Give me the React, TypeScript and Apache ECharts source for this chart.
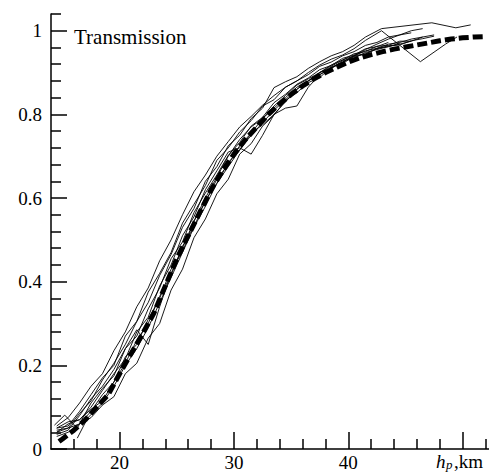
import React, { useEffect, useRef } from 'react';
import * as echarts from 'echarts';

// common x grid (km) for most of the individual transmission profiles
const gridX = [14.5, 15.5, 16.5, 17.5, 18.5, 19.5, 20.5, 21.5, 22.5, 23.5, 24.5, 25.5, 26.5, 27.5, 28.5, 29.5, 30.5, 31.5, 32.5, 33.5, 34.5, 35.5, 36.5, 37.5, 38.5, 39.5, 40.5, 41.5, 42.5, 43.5, 44.5, 45.5, 46.5, 47.5, 48.5, 49.5, 50.5];

const prof1 = [0.05, 0.055, 0.09, 0.13, 0.17, 0.2, 0.27, 0.305, 0.375, 0.42, 0.47, 0.54, 0.585, 0.63, 0.69, 0.72, 0.758, 0.785, 0.82, 0.835, 0.865, 0.88, 0.895, 0.915, 0.925, 0.94, 0.95, 0.965, 0.972, 0.985, 0.99, 0.995];
const prof2 = [0.045, 0.05, 0.06, 0.075, 0.105, 0.125, 0.18, 0.205, 0.265, 0.3, 0.38, 0.43, 0.505, 0.55, 0.61, 0.645, 0.705, 0.73, 0.772, 0.798, 0.833, 0.852, 0.876, 0.888, 0.913, 0.922, 0.938, 0.944, 0.957, 0.964, 0.966, 0.976, 0.981, 0.987];
const prof3 = [0.035, 0.045, 0.08, 0.12, 0.15, 0.19, 0.24, 0.285, 0.25, 0.34, 0.42, 0.48, 0.545, 0.6, 0.65, 0.7, 0.74, 0.77, 0.79, 0.82, 0.845, 0.87, 0.885, 0.9, 0.915, 0.93, 0.94, 0.952, 0.958, 0.968, 0.972, 0.98, 0.985, 0.99];
const prof5 = [0.04, 0.06, 0.07, 0.1, 0.14, 0.18, 0.215, 0.28, 0.315, 0.39, 0.44, 0.51, 0.555, 0.62, 0.665, 0.71, 0.72, 0.705, 0.75, 0.8, 0.83, 0.86, 0.88, 0.9, 0.918, 0.93, 0.945, 0.95, 0.963, 0.965, 0.975, 0.975, 0.985];
const prof6 = [0.05, 0.065, 0.07, 0.095, 0.115, 0.16, 0.205, 0.26, 0.3, 0.365, 0.415, 0.485, 0.53, 0.595, 0.635, 0.685, 0.715, 0.755, 0.775, 0.8, 0.815, 0.82, 0.865, 0.895, 0.91, 0.925, 0.94, 0.945, 0.958, 0.962, 0.97];
const prof10 = [0.03, 0.04, 0.06, 0.09, 0.13, 0.16, 0.22, 0.25, 0.31, 0.36, 0.43, 0.47, 0.545, 0.59, 0.645, 0.68, 0.725, 0.755, 0.79, 0.815, 0.84, 0.865, 0.88, 0.9, 0.91, 0.928, 0.935, 0.948, 0.955, 0.962, 0.968, 0.975];

// profiles sampled at their own x positions
const prof4X = [14.3, 15.2, 16.3, 17.5, 18.5, 19.5, 20.5, 21.5, 22.5, 23.5, 24.5, 25.5, 26.5, 27.5, 28.5, 29.5, 30.5, 31.5, 32.5, 33.5, 34.5, 35.5, 36.5, 37.5, 38.5, 39.5, 40.5, 41.5, 42.5, 43.5];
const prof4 = [0.057, 0.081, 0.05, 0.11, 0.145, 0.175, 0.24, 0.27, 0.335, 0.385, 0.455, 0.495, 0.565, 0.612, 0.655, 0.702, 0.733, 0.772, 0.793, 0.828, 0.848, 0.872, 0.887, 0.907, 0.917, 0.934, 0.942, 0.957, 0.962, 0.972];
const prof7X = [14.5, 15.5, 16.5, 17.5, 18.5, 19.5, 20.5, 21.5, 22.5, 23.5, 24.5, 25.5, 26.5, 27.5, 28.5, 29.5, 30.5, 31.5, 32.5, 33.5, 34.5, 35.5, 36.5, 37.5, 38.5, 39.5, 40.5, 41.5, 42.9, 47.3, 49.4, 50.7];
const prof7 = [0.04, 0.05, 0.085, 0.115, 0.165, 0.205, 0.25, 0.305, 0.35, 0.415, 0.465, 0.53, 0.575, 0.64, 0.675, 0.725, 0.75, 0.79, 0.815, 0.864, 0.878, 0.89, 0.91, 0.926, 0.94, 0.95, 0.965, 0.985, 1.005, 1.019, 1.007, 1.014];
const prof8X = [14.5, 15.5, 16.5, 17.5, 18.5, 19.5, 20.5, 21.5, 22.5, 23.5, 24.5, 25.5, 26.5, 27.5, 28.5, 29.5, 30.5, 31.5, 32.5, 33.5, 34.5, 35.5, 36.5, 37.5, 38.5, 39.5, 40.5, 41.5, 42.9, 46.3, 48.5, 49.5];
const prof8 = [0.055, 0.075, 0.11, 0.15, 0.18, 0.235, 0.28, 0.34, 0.385, 0.45, 0.5, 0.56, 0.615, 0.655, 0.7, 0.735, 0.77, 0.795, 0.822, 0.845, 0.865, 0.88, 0.9, 0.918, 0.932, 0.942, 0.957, 0.977, 1.0, 0.926, 0.968, 0.985];
const prof9X = [16.3, 17.2, 18.5, 19.5, 20.5, 21.5, 22.5, 23.5, 24.5, 25.5, 26.5, 27.5, 28.5, 29.5, 30.5, 31.5, 32.5, 33.5, 34.5, 35.5, 36.5, 37.5, 38.5, 39.5, 40.5, 41.5, 42.5, 43.5, 44.5, 45.5, 46.5];
const prof9 = [0.026, 0.074, 0.11, 0.15, 0.2, 0.24, 0.29, 0.35, 0.41, 0.47, 0.53, 0.58, 0.635, 0.675, 0.715, 0.75, 0.78, 0.81, 0.835, 0.86, 0.88, 0.895, 0.912, 0.925, 0.94, 0.955, 0.968, 0.98, 0.99, 1.0, 1.005];

// mean transmission (thick dashed curve)
const meanX = [14.7, 15, 16, 17, 18, 19, 20, 21, 22, 23, 24, 25, 26, 27, 28, 29, 30, 31, 32, 33, 34, 35, 36, 37, 38, 39, 40, 41, 42, 43, 44, 45, 46, 47, 48, 49, 50, 51, 52];
const meanY = [0.018, 0.024, 0.045, 0.07, 0.1, 0.13, 0.18, 0.228, 0.275, 0.325, 0.39, 0.455, 0.51, 0.565, 0.62, 0.665, 0.705, 0.74, 0.77, 0.8, 0.825, 0.848, 0.868, 0.885, 0.9, 0.913, 0.925, 0.935, 0.943, 0.95, 0.956, 0.961, 0.966, 0.971, 0.976, 0.98, 0.983, 0.985, 0.986];

// axis ticks and labels
const X_MIN = 14;
const X_MAX = 52.3;
const Y_MIN = 0;
const Y_MAX = 1.04;
const xMajor = [20, 30, 40, 50];
const xLabels = [20, 30, 40];
const xMinor = [16, 18, 22, 24, 26, 28, 32, 34, 36, 38, 42, 44, 46, 48, 52];
const yMajor = [0, 0.2, 0.4, 0.6, 0.8, 1];
const yMinor = [0.04, 0.08, 0.12, 0.16, 0.24, 0.28, 0.32, 0.36, 0.44, 0.48, 0.52, 0.56, 0.64, 0.68, 0.72, 0.76, 0.84, 0.88, 0.92, 0.96, 1.04];

const FONT = 'serif';

// plot area in pixels (used only to turn the short minor-tick length into data units)
const GRID = { left: 51, right: 0, top: 14, bottom: 21 };
const W = 489;
const H = 472;
const MINOR_LEN = 10;

function pairs(xs: number[], ys: number[]) {
  const out: number[][] = [];
  ys.forEach((y, i) => {
    if (i < xs.length) out.push([xs[i], y]);
  });
  return out;
}

export default function App() {
  const ref = useRef<HTMLDivElement>(null);
  useEffect(() => {
    const chart = echarts.init(ref.current!, null, { renderer: 'svg' });
    const sets: [number[], number[]][] = [
      [gridX, prof1], [gridX, prof2], [gridX, prof3], [prof4X, prof4], [gridX, prof5],
      [gridX, prof6], [prof7X, prof7], [prof8X, prof8], [prof9X, prof9], [gridX, prof10],
    ];
    const thinSeries = sets.map(([xs, ys]) => ({
      type: 'line',
      data: pairs(xs, ys),
      showSymbol: false,
      lineStyle: { color: '#000', width: 0.9 },
    }));
    const plotW = W - GRID.left - GRID.right;
    const plotH = H - GRID.top - GRID.bottom;
    const dyMinor = (MINOR_LEN / plotH) * (Y_MAX - Y_MIN);
    const dxMinor = (MINOR_LEN / plotW) * (X_MAX - X_MIN);
    const minorTicks = [
      ...xMinor.map((v) => [{ coord: [v, Y_MIN] }, { coord: [v, Y_MIN + dyMinor] }]),
      ...yMinor.map((v) => [{ coord: [X_MIN, v] }, { coord: [X_MIN + dxMinor, v] }]),
    ];
    const axisLineStyle = { color: '#000', width: 1.5 };
    chart.setOption({
      animation: false,
      backgroundColor: '#fff',
      grid: { ...GRID, containLabel: false },
      xAxis: {
        type: 'value', min: X_MIN, max: X_MAX,
        axisLine: { show: true, lineStyle: axisLineStyle },
        splitLine: { show: false },
        axisTick: { show: true, inside: true, length: 17, customValues: xMajor, lineStyle: axisLineStyle },
        axisLabel: { show: true, customValues: xLabels, margin: 4, color: '#000', fontFamily: FONT, fontSize: 19 },
      },
      yAxis: {
        type: 'value', min: Y_MIN, max: Y_MAX,
        axisLine: { show: true, lineStyle: axisLineStyle },
        splitLine: { show: false },
        axisTick: { show: true, inside: true, length: 16, customValues: yMajor, lineStyle: axisLineStyle },
        axisLabel: { show: true, customValues: yMajor, margin: 9, color: '#000', fontFamily: FONT, fontSize: 19 },
      },
      graphic: [
        { type: 'text', x: 74, y: 37, style: { text: 'Transmission', fontFamily: FONT, fontSize: 21, fill: '#000', verticalAlign: 'middle' } },
        { type: 'text', x: 436, y: 461, style: { text: 'h', fontFamily: FONT, fontStyle: 'italic', fontSize: 19, fill: '#000', verticalAlign: 'middle' } },
        { type: 'text', x: 446, y: 464, style: { text: 'p', fontFamily: FONT, fontStyle: 'italic', fontSize: 13, fill: '#000', verticalAlign: 'middle' } },
        { type: 'text', x: 454, y: 461, style: { text: ',km', fontFamily: FONT, fontSize: 19, fill: '#000', verticalAlign: 'middle' } },
      ],
      series: [
        ...thinSeries,
        {
          type: 'line',
          data: pairs(meanX, meanY),
          showSymbol: false,
          z: 3,
          lineStyle: { color: '#000', width: 5, type: [10, 4] },
          markLine: {
            silent: true,
            symbol: ['none', 'none'],
            label: { show: false },
            lineStyle: { color: '#000', width: 1.5, type: 'solid' },
            emphasis: { disabled: true },
            data: minorTicks,
          },
        },
      ],
    });
    return () => chart.dispose();
  }, []);
  return <div ref={ref} style={{ position: 'absolute', left: 0, top: 0, width: W, height: H }} />;
}
